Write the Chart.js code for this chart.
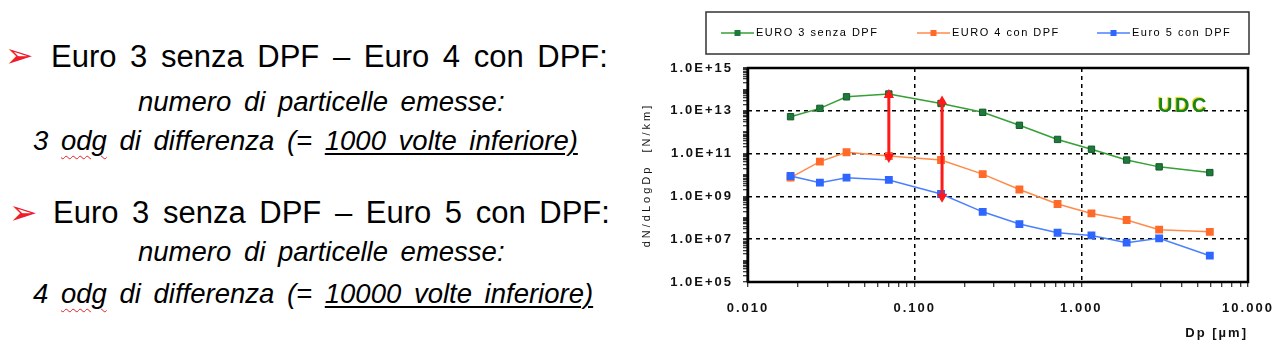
<!DOCTYPE html>
<html>
<head>
<meta charset="utf-8">
<script src="https://cdn.jsdelivr.net/npm/chart.js@4.4.0/dist/chart.umd.min.js"></script>
<style>
body{margin:0;width:1288px;height:362px;overflow:hidden;background:#fff;position:relative;
  font-family:"Liberation Sans",Arial,sans-serif;color:#000}
.t{position:absolute;white-space:nowrap;line-height:1}
.h{font-size:31px;letter-spacing:0;word-spacing:5px}
.i{font-style:italic;font-size:27.5px;letter-spacing:0;word-spacing:5px}
.b{position:absolute;font-family:"DejaVu Sans";color:#f01c2c;font-size:34px;line-height:1}
.u{text-decoration:underline;text-underline-offset:3px;text-decoration-thickness:1.5px}
.w{text-decoration:underline wavy #e02020;text-underline-offset:5px;text-decoration-thickness:1px}
#c{position:absolute;left:620px;top:0}
</style>
</head>
<body>
<span class="b" style="left:5px;top:38px">➢</span>
<div class="t h" style="left:51px;top:41px">Euro 3 senza DPF – Euro 4 con DPF:</div>
<div class="t i" style="left:138px;top:88px">numero di particelle emesse:</div>
<div class="t i" style="left:33px;top:127px">3 <span class="w">odg</span> di differenza (= <span class="u">1000 volte inferiore)</span></div>
<span class="b" style="left:9px;top:195px">➢</span>
<div class="t h" style="left:53px;top:197px">Euro 3 senza DPF – Euro 5 con DPF:</div>
<div class="t i" style="left:138px;top:238px">numero di particelle emesse:</div>
<div class="t i" style="left:33px;top:280px">4 <span class="w">odg</span> di differenza (= <span class="u">10000 volte inferiore)</span></div>
<canvas id="c" width="668" height="362"></canvas>
<script>
// particle diameter Dp [um]
const sizes = [0.018, 0.027, 0.039, 0.070, 0.144, 0.256, 0.425, 0.72, 1.15, 1.87, 2.93, 5.9];
// dN/dLogDp [N/km]
const euro3 = [5.3e12, 1.3e13, 4.5e13, 6.1e13, 2.2e13, 8.5e12, 2.1e12, 4.6e11, 1.6e11, 5.0e10, 2.4e10, 1.3e10];
const euro4 = [7.5e9, 4.2e10, 1.15e11, 7.7e10, 5.0e10, 1.1e10, 2.1e9, 4.4e8, 1.6e8, 7.9e7, 2.8e7, 2.2e7];
const euro5 = [9.0e9, 4.4e9, 7.5e9, 5.9e9, 1.3e9, 1.9e8, 5.1e7, 2.0e7, 1.5e7, 6.9e6, 1.1e7, 1.7e6];
const seriesNames = ["EURO 3 senza DPF", "EURO 4 con DPF", "Euro 5 con DPF"];

// red double arrows (gap between series)
const arrowX = [0.070, 0.146];
const arrowTop = [5.5e13, 2.7e13];
const arrowBottom = [7.0e10, 9.7e8];

const xTickValues = [0.01, 0.1, 1, 10];
const xTickLabels = ["0.010", "0.100", "1.000", "10.000"];
const yTickValues = [1e5, 1e7, 1e9, 1e11, 1e13, 1e15];
const yTickLabels = ["1.0E+05", "1.0E+07", "1.0E+09", "1.0E+11", "1.0E+13", "1.0E+15"];

const pts = vals => sizes.map((x, i) => ({x: x, y: vals[i]}));

const near = (a, b) => Math.abs(Math.log10(a) - Math.log10(b)) < 1e-6;

// 1..9 x 10^e marks for the log axes
function logMarks(e0, e1) {
    let out = [];
    for (let e = e0; e < e1; e++)
        for (let m = 1; m <= 9; m++) out.push({value: Number((m * Math.pow(10, e)).toPrecision(3))});
    out.push({value: Math.pow(10, e1)});
    return out;
}

const isGridX = v => near(v, 0.1) || near(v, 1);
const isGridY = v => [1e7, 1e9, 1e11, 1e13].some(g => near(v, g));

function arrow(i) {
    return {
        label: "arrow" + i,
        data: [{x: arrowX[i], y: arrowTop[i]}, {x: arrowX[i], y: arrowBottom[i]}],
        showLine: true,
        borderColor: "#ff1a1a",
        backgroundColor: "#ff1a1a",
        borderWidth: 3,
        pointStyle: "triangle",
        pointRotation: [0, 180],
        pointRadius: 6,
        pointBorderWidth: 0,
        order: 0
    };
}

const extras = {
    id: "extras",
    beforeDraw(chart) {
        chart.ctx.letterSpacing = "2px";
    },
    afterDraw(chart) {
        const ctx = chart.ctx;
        const a = chart.chartArea;
        ctx.save();
        // plot frame
        ctx.strokeStyle = "#000";
        ctx.lineWidth = 2.5;
        ctx.strokeRect(a.left, a.top, a.right - a.left, a.bottom - a.top);
        ctx.fillRect(a.left - 1.5, a.top, 2, a.bottom - a.top);

        // legend box
        ctx.lineWidth = 1.5;
        ctx.strokeStyle = "#333";
        ctx.strokeRect(86, 12, 543, 42);
        const lx = [101, 297, 477];
        ctx.font = '11px "Liberation Sans", Arial';
        ctx.letterSpacing = "1.5px";
        ctx.textBaseline = "middle";
        ctx.textAlign = "left";
        for (let i = 0; i < 3; i++) {
            const ds = chart.data.datasets[i];
            ctx.strokeStyle = ds.borderColor;
            ctx.lineWidth = 1.5;
            ctx.beginPath();
            ctx.moveTo(lx[i], 33);
            ctx.lineTo(lx[i] + 33, 33);
            ctx.stroke();
            ctx.fillStyle = ds.pointBackgroundColor;
            ctx.fillRect(lx[i] + 13.5, 30, 6, 6);
            ctx.fillStyle = "#000";
            ctx.fillText(ds.label, lx[i] + 35, 33);
        }

        // y title
        ctx.save();
        ctx.translate(27, 175);
        ctx.rotate(-Math.PI / 2);
        ctx.textAlign = "center";
        ctx.font = '11px "Liberation Sans", Arial';
        ctx.letterSpacing = "3px";
        ctx.fillStyle = "#111";
        ctx.fillText("dN/dLogDp  [N/km]", 0, 0);
        ctx.restore();

        // UDC
        ctx.font = 'bold 20px "Liberation Sans", Arial';
        ctx.letterSpacing = "2.5px";
        ctx.textAlign = "left";
        ctx.shadowColor = "#e8d400";
        ctx.shadowOffsetX = -1;
        ctx.shadowOffsetY = -1;
        ctx.shadowBlur = 1;
        ctx.fillStyle = "#1a8420";
        ctx.fillText("UDC", 538, 106);
        ctx.restore();
    }
};

new Chart("c", {
    type: "scatter",
    data: {
        datasets: [{
            label: seriesNames[0],
            data: pts(euro3),
            showLine: true,
            borderColor: "#35a035",
            pointBackgroundColor: "#1d7a3a",
            pointBorderColor: "#135a2a",
            borderWidth: 1.5,
            pointStyle: "rect",
            pointRadius: 4.5,
            pointBorderWidth: 1,
            order: 3
        }, {
            label: seriesNames[1],
            data: pts(euro4),
            showLine: true,
            borderColor: "#ff8a4a",
            pointBackgroundColor: "#ff6a2a",
            pointBorderColor: "#ff6a2a",
            borderWidth: 1.5,
            pointStyle: "rect",
            pointRadius: 4.5,
            order: 2
        }, {
            label: seriesNames[2],
            data: pts(euro5),
            showLine: true,
            borderColor: "#4a80ff",
            pointBackgroundColor: "#2f66ff",
            pointBorderColor: "#2f66ff",
            borderWidth: 1.5,
            pointStyle: "rect",
            pointRadius: 4.5,
            order: 1
        }, arrow(0), arrow(1)]
    },
    options: {
        responsive: false,
        animation: false,
        layout: {padding: {left: 0, top: 68, right: 40, bottom: 0}},
        plugins: {legend: {display: false}, tooltip: {enabled: false}},
        scales: {
            x: {
                type: "logarithmic",
                min: 0.01,
                max: 10,
                afterBuildTicks: s => { s.ticks = logMarks(-2, 1); },
                afterFit: s => { s.height = 80; },
                border: {display: false, dash: [4, 4]},
                grid: {
                    color: c => isGridX(c.tick.value) ? "#000" : "transparent",
                    lineWidth: 1.5,
                    tickColor: "#000",
                    tickLength: 5,
                    tickWidth: 1
                },
                ticks: {
                    autoSkip: false,
                    maxRotation: 0,
                    padding: 14,
                    color: "#111",
                    font: {family: '"Liberation Sans", Arial', size: 13, weight: "bold"},
                    callback: v => {
                        const k = xTickValues.findIndex(t => near(t, v));
                        return k < 0 ? "" : xTickLabels[k];
                    }
                },
                title: {
                    display: true,
                    text: "Dp [µm]",
                    align: "end",
                    color: "#111",
                    font: {family: '"Liberation Sans", Arial', size: 13, weight: "bold"},
                    padding: {top: 0, bottom: 21}
                }
            },
            y: {
                type: "logarithmic",
                min: 1e5,
                max: 1e15,
                afterBuildTicks: s => { s.ticks = logMarks(5, 15); },
                afterFit: s => { s.width = 128; },
                border: {display: false, dash: [4, 4]},
                grid: {
                    color: c => isGridY(c.tick.value) ? "#000" : "transparent",
                    lineWidth: 1.5,
                    tickColor: "#000",
                    tickLength: 5,
                    tickWidth: 1
                },
                ticks: {
                    autoSkip: false,
                    padding: 10,
                    color: "#111",
                    font: {family: '"Liberation Sans", Arial', size: 13, weight: "bold"},
                    callback: v => {
                        const k = yTickValues.findIndex(t => near(t, v));
                        return k < 0 ? "" : yTickLabels[k];
                    }
                }
            }
        }
    },
    plugins: [extras]
});
</script>
</body>
</html>
